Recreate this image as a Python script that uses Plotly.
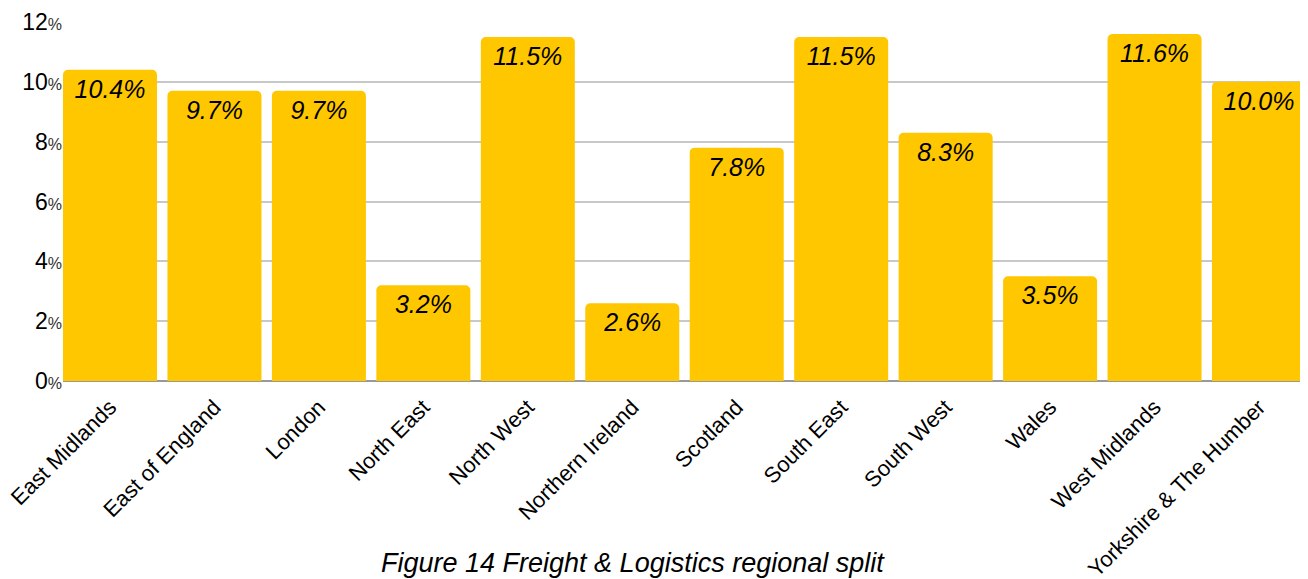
import plotly.graph_objects as go

regions = ['East Midlands', 'East of England', 'London', 'North East', 'North West',
           'Northern Ireland', 'Scotland', 'South East', 'South West', 'Wales',
           'West Midlands', 'Yorkshire & The Humber']
share = [10.4, 9.7, 9.7, 3.2, 11.5, 2.6, 7.8, 11.5, 8.3, 3.5, 11.6, 10.0]
ytick_vals = [0, 2, 4, 6, 8, 10, 12]

# small % sign on the y tick labels, like the original
ytick_text = [f"{v}<span style='font-size:16px;fill:#333'>%</span>" for v in ytick_vals]

fig = go.Figure(go.Bar(
    x=list(range(len(regions))),
    y=share,
    marker=dict(color='#FFC700', cornerradius=5, line=dict(width=0)),
    text=[f"<i>{v:.1f}%</i>" for v in share],
    textposition='inside',
    insidetextanchor='end',
    textangle=0,
    textfont=dict(family='Liberation Sans, Arial, sans-serif', size=25, color='black'),
    width=0.9,
))

# page body has an 8px margin, so the figure is 8px smaller each way
fig.update_layout(
    width=1300, height=571,
    margin=dict(l=55, r=2, t=14, b=198, autoexpand=False),
    plot_bgcolor='white', paper_bgcolor='white',
    font=dict(family='Liberation Sans, Arial, sans-serif', color='black'),
    showlegend=False,
    uniformtext=dict(minsize=25, mode='show'),
    xaxis=dict(
        tickmode='array', tickvals=list(range(len(regions))), ticktext=regions,
        tickangle=-45, tickfont=dict(size=22), range=[-0.45, 11.45],
        ticklabeloverflow='allow', ticklabelstandoff=8,
        showgrid=False, ticks='', showline=False, zeroline=False, automargin=False,
    ),
    yaxis=dict(
        range=[0, 12], tickmode='array', tickvals=ytick_vals, ticktext=ytick_text,
        tickfont=dict(size=23), showgrid=True, gridcolor='#c8c8c8', gridwidth=1.5,
        zeroline=True, zerolinecolor='#999999', zerolinewidth=1.5, ticks='',
        showline=False, automargin=False,
    ),
    annotations=[dict(
        text='<i>Figure 14 Freight &amp; Logistics regional split</i>',
        x=0.4586, y=-0.507, xref='paper', yref='paper',
        xanchor='center', yanchor='middle', showarrow=False,
        font=dict(size=27, color='black'),
    )],
)

fig.write_html("out.html")
